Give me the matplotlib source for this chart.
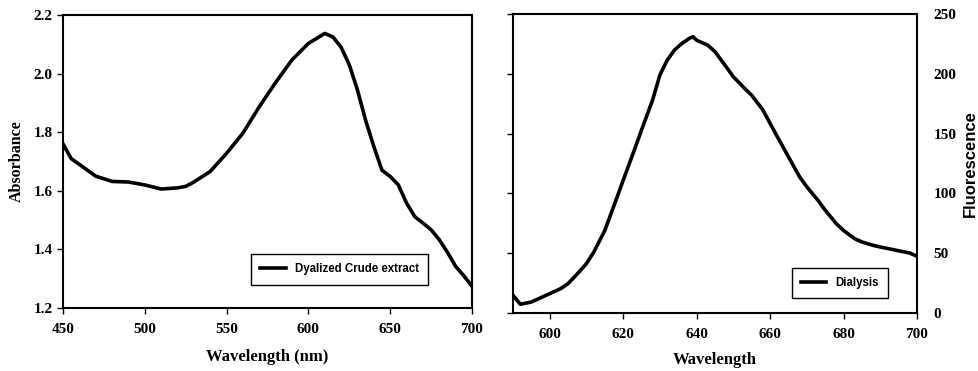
import matplotlib.pyplot as plt

# absorbance spectrum (left panel)
abs_wl = [450, 455, 460, 470, 480, 490, 500, 510, 520, 525, 530, 540, 550, 560,
          570, 580, 590, 600, 605, 610, 615, 620, 625, 630, 635, 640, 645, 650,
          655, 660, 665, 670, 675, 680, 685, 690, 695, 700]
absorbance = [1.76, 1.71, 1.69, 1.65, 1.632, 1.63, 1.62, 1.606, 1.61, 1.615, 1.63,
              1.666, 1.728, 1.797, 1.887, 1.97, 2.047, 2.103, 2.12, 2.137, 2.125,
              2.09, 2.03, 1.944, 1.84, 1.751, 1.67, 1.649, 1.62, 1.558, 1.512,
              1.49, 1.467, 1.433, 1.39, 1.342, 1.31, 1.274]

# fluorescence spectrum (right panel)
fl_wl = [590, 592, 595, 598, 600, 603, 605, 608, 610, 612, 615, 618, 620, 623,
         625, 628, 630, 632, 634, 636, 638, 639, 640, 643, 645, 648, 650, 653,
         655, 658, 660, 663, 665, 668, 670, 673, 675, 678, 680, 683, 685, 688,
         690, 693, 695, 698, 700]
fluorescence = [14.8, 7.3, 9.2, 13.4, 16.2, 20.4, 24.6, 34.3, 41.3, 51, 69, 94,
                111, 136, 153, 178, 199, 211.5, 220, 225.4, 229.6, 231, 228, 224,
                218.5, 206, 197.5, 188, 182, 170, 158.5, 141.7, 130.6, 114, 105.5,
                94.3, 86, 74.8, 69, 62.2, 59.4, 56.6, 55.2, 53.3, 52, 50.2, 47.4]

SERIF = ['Liberation Serif', 'DejaVu Serif']
SANS = ['Liberation Sans', 'DejaVu Sans']

W, H = 979, 371
fig = plt.figure(figsize=(W / 100, H / 100), dpi=100)

ax1 = fig.add_axes([63 / W, 1 - 308 / H, (472 - 63) / W, (308 - 15) / H])
ax2 = fig.add_axes([513 / W, 1 - 313 / H, (917 - 513) / W, (313 - 14) / H])

# left panel
ax1.plot(abs_wl, absorbance, color='black', lw=2.6, label='Dyalized Crude extract')
ax1.set_xlim(450, 700)
ax1.set_ylim(1.2, 2.2)
ax1.set_xticks([450, 500, 550, 600, 650, 700])
ax1.set_yticks([1.2, 1.4, 1.6, 1.8, 2.0, 2.2])
ax1.set_yticklabels(['1.2', '1.4', '1.6', '1.8', '2.0', '2.2'])
ax1.set_xlabel('Wavelength (nm)', family=SERIF, fontweight='bold', fontsize=12, va='center')
ax1.set_ylabel('Absorbance', family=SERIF, fontweight='bold', fontsize=11.5, va='center')
ax1.xaxis.set_label_coords(0.5, -0.167)
ax1.yaxis.set_label_coords(-0.112, 0.5)
ax1.legend(loc='lower left', bbox_to_anchor=(0.46, 0.08), prop={'family': SANS, 'weight': 'bold', 'size': 8.3},
           fancybox=False, edgecolor='black', framealpha=1, handlelength=2.2,
           borderpad=0.8, borderaxespad=0)

# right panel: labels on the right, ticks on the left
ax2.plot(fl_wl, fluorescence, color='black', lw=2.6, label='Dialysis')
ax2.set_xlim(590, 700)
ax2.set_ylim(0, 250)
ax2.set_xticks([600, 620, 640, 660, 680, 700])
ax2.set_yticks([0, 50, 100, 150, 200, 250])
ax2.yaxis.set_label_position('right')
ax2.tick_params(axis='y', left=True, right=False, labelleft=False, labelright=True, pad=8)
ax2.set_xlabel('Wavelength', family=SERIF, fontweight='bold', fontsize=12, va='center')
ax2.set_ylabel('Fluorescence', family=SANS, fontweight='bold', fontsize=12, va='center')
ax2.xaxis.set_label_coords(0.5, -0.157)
ax2.yaxis.set_label_coords(1.131, 0.5)
ax2.legend(loc='lower left', bbox_to_anchor=(0.69, 0.05), prop={'family': SANS, 'weight': 'bold', 'size': 8.3},
           fancybox=False, edgecolor='black', framealpha=1, handlelength=2.2,
           borderpad=0.8, borderaxespad=0)

for ax in (ax1, ax2):
    for sp in ax.spines.values():
        sp.set_linewidth(1.5)
    ax.tick_params(length=4, width=1, labelsize=11)
    ax.tick_params(axis='x', pad=7)
    for lab in ax.get_xticklabels() + ax.get_yticklabels():
        lab.set_family(SERIF)
        lab.set_fontweight('bold')

fig.savefig('out.png', dpi=100)
